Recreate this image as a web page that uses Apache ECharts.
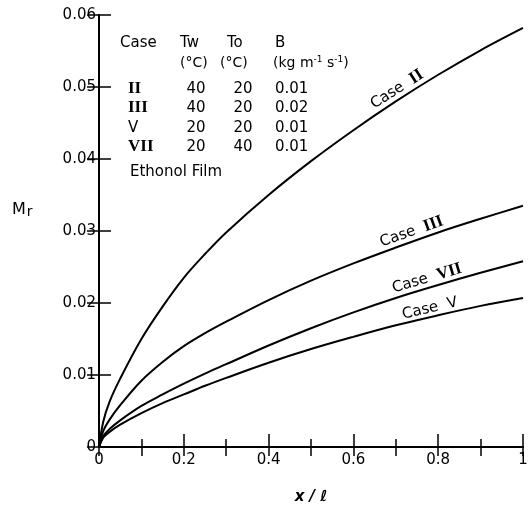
<!DOCTYPE html>
<html>
<head>
<meta charset="UTF-8">
<title>Mr - Ethanol Film</title>
<script src="https://cdn.jsdelivr.net/npm/echarts@6/dist/echarts.min.js"></script>
<style>
*{margin:0;padding:0}
html,body{width:100%;height:100%;background:#fff}
#main{width:531px;height:510px}
</style>
</head>
<body>
<div id="main"></div>
<script>
// x / l positions and Mr values
var xPos   = [0, 0.01, 0.025, 0.05, 0.1, 0.15, 0.2, 0.25, 0.3, 0.4, 0.5, 0.6, 0.7, 0.8, 0.9, 1.0];
var case2  = [0, 0.0035, 0.0063, 0.0095, 0.0150, 0.0195, 0.0235, 0.0268, 0.0298, 0.0350, 0.0397, 0.0440, 0.0480, 0.0517, 0.0551, 0.0582];
var case3  = [0, 0.0022, 0.0038, 0.0058, 0.0092, 0.0118, 0.0140, 0.0158, 0.0174, 0.0204, 0.0231, 0.0255, 0.0277, 0.0298, 0.0317, 0.0335];
var case7  = [0, 0.0015, 0.0025, 0.0037, 0.0057, 0.0073, 0.0088, 0.0102, 0.0115, 0.0141, 0.0165, 0.0187, 0.0207, 0.0225, 0.0242, 0.0258];
var case5  = [0, 0.0013, 0.0021, 0.0031, 0.0047, 0.0061, 0.0073, 0.0085, 0.0096, 0.0117, 0.0136, 0.0153, 0.0169, 0.0183, 0.0196, 0.0207];

// legend table in the top-left corner
var caseNames = ['II', 'III', 'V', 'VII'];
var twVals = ['40', '40', '20', '20'];
var toVals = ['20', '20', '20', '40'];
var bVals  = ['0.01', '0.02', '0.01', '0.01'];

// where each curve carries its name (x / l)
var curveLabels = [
    {name: 'II',  data: case2, at: 0.715},
    {name: 'III', data: case3, at: 0.745},
    {name: 'VII', data: case7, at: 0.78},
    {name: 'V',   data: case5, at: 0.785}
];

var FONT = '"DejaVu Sans", sans-serif';
var ROMAN = {fontFamily: '"Liberation Serif", serif', fontWeight: 'bold', fontSize: 17, fill: '#000'};

function pairs(ys) {
    return xPos.map(function (x, i) { return [x, ys[i]]; });
}
function valueAt(ys, x) {
    for (var i = 1; i < xPos.length; i++) {
        if (x <= xPos[i]) {
            var t = (x - xPos[i - 1]) / (xPos[i] - xPos[i - 1]);
            return ys[i - 1] + t * (ys[i] - ys[i - 1]);
        }
    }
    return ys[ys.length - 1];
}

var myChart = echarts.init(document.getElementById('main'));

var axisLine = {show: true, lineStyle: {color: '#000', width: 2}};
function lineSeries(ys) {
    return {
        type: 'line', data: pairs(ys), smooth: 0.35, showSymbol: false,
        lineStyle: {color: '#000', width: 2}, silent: true
    };
}

var option = {
    animation: false,
    grid: {left: 99, right: 8, top: 15, bottom: 62},
    xAxis: [{
        type: 'value', min: 0, max: 1, interval: 0.2, position: 'bottom',
        axisLine: axisLine,
        axisTick: {inside: true, length: 13, lineStyle: {color: '#000', width: 1.5}},
        minorTick: {show: true, splitNumber: 2, length: 8, lineStyle: {color: '#000', width: 1.5}},
        splitLine: {show: false},
        axisLabel: {
            color: '#000', fontSize: 15, fontFamily: FONT, margin: 6,
            formatter: function (v) { return (v === 0 || v === 1) ? String(v) : v.toFixed(1); }
        },
        name: 'x / ℓ', nameLocation: 'middle', nameGap: 43,
        nameTextStyle: {color: '#000', fontSize: 15, fontStyle: 'italic', fontWeight: 'bold', fontFamily: FONT}
    }, {
        type: 'value', min: 0, max: 1, interval: 0.1, position: 'top',
        axisLine: axisLine,
        axisTick: {inside: true, length: 9, lineStyle: {color: '#000', width: 1.5}},
        splitLine: {show: false}, axisLabel: {show: false}
    }],
    yAxis: [{
        type: 'value', min: 0, max: 0.06, interval: 0.01, position: 'left',
        axisLine: axisLine,
        axisTick: {inside: true, length: 12, lineStyle: {color: '#000', width: 1.5}},
        splitLine: {show: false},
        axisLabel: {
            color: '#000', fontSize: 15, fontFamily: FONT, margin: 3,
            formatter: function (v) { return v === 0 ? '0' : v.toFixed(2); }
        }
    }, {
        type: 'value', min: 0, max: 0.06, interval: 0.01, position: 'right',
        axisLine: axisLine,
        axisTick: {inside: true, length: 12, lineStyle: {color: '#000', width: 1.5}},
        splitLine: {show: false}, axisLabel: {show: false}
    }],
    series: [lineSeries(case2), lineSeries(case3), lineSeries(case7), lineSeries(case5)]
};
myChart.setOption(option);

// ---- annotations ----
var els = [];
function txt(s, x, y, opts) {
    opts = opts || {};
    els.push({
        type: 'text', x: x, y: y, silent: true,
        style: {
            text: s, fill: '#000', font: (opts.size || 14) + 'px ' + FONT,
            textAlign: opts.align || 'left', textVerticalAlign: 'middle',
            rich: {r: ROMAN, u: {fontSize: 9, fontFamily: FONT, fill: '#000', verticalAlign: 'top', padding: [0, 0, 6, 0]}}
        }
    });
}

// Mr axis title
els.push({
    type: 'text', x: 12, y: 210, silent: true,
    style: {
        text: 'M{s|r}', fill: '#000', font: '16px ' + FONT, textVerticalAlign: 'middle',
        rich: {s: {fontSize: 14, fontFamily: FONT, fill: '#000', padding: [5, 0, 0, 1]}}
    }
});

// table
txt('Case', 120, 43, {size: 15});
txt('Tw', 180, 43, {size: 15});
txt('To', 227, 43, {size: 15});
txt('B', 275, 43, {size: 15});
txt('(°C)', 180, 63, {size: 14});
txt('(°C)', 220, 63, {size: 14});
txt('(kg m{u|-1} s{u|-1})', 273, 63, {size: 14});
var rowY = [89, 108, 128, 147];
caseNames.forEach(function (c, i) {
    if (c === 'V') txt('V', 128, rowY[i], {size: 15});
    else txt('{r|' + c + '}', 128, rowY[i], {size: 15});
    txt(twVals[i], 196, rowY[i], {size: 15, align: 'center'});
    txt(toVals[i], 243, rowY[i], {size: 15, align: 'center'});
    txt(bVals[i], 275, rowY[i], {size: 15});
});
txt('Ethonol Film', 130, 172, {size: 15});

// curve names, laid along each curve
curveLabels.forEach(function (c) {
    var p = myChart.convertToPixel({gridIndex: 0}, [c.at, valueAt(c.data, c.at)]);
    var p1 = myChart.convertToPixel({gridIndex: 0}, [c.at - 0.06, valueAt(c.data, c.at - 0.06)]);
    var p2 = myChart.convertToPixel({gridIndex: 0}, [c.at + 0.06, valueAt(c.data, c.at + 0.06)]);
    var ang = Math.atan2(p1[1] - p2[1], p2[0] - p1[0]);
    var label = c.name === 'V' ? 'Case  V' : 'Case  {r|' + c.name + '}';
    els.push({
        type: 'text', x: p[0], y: p[1], rotation: ang, silent: true,
        style: {
            text: label, x: 0, y: -1, fill: '#000', font: '15px ' + FONT,
            textAlign: 'center', textVerticalAlign: 'bottom',
            rich: {r: ROMAN}
        }
    });
});

myChart.setOption({graphic: els});
</script>
</body>
</html>
